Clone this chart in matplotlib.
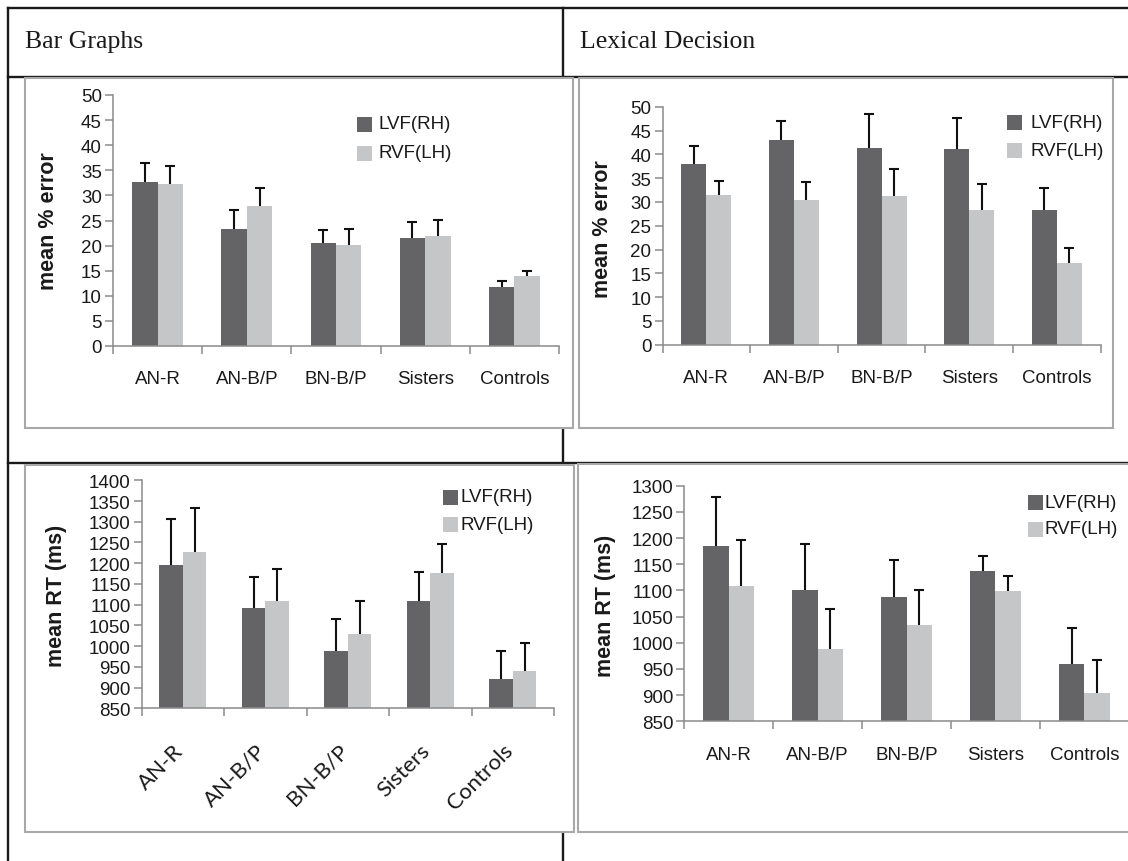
import numpy as np
import matplotlib
matplotlib.use("Agg")
import matplotlib.pyplot as plt
from matplotlib.lines import Line2D
from matplotlib.patches import Rectangle
from matplotlib.transforms import ScaledTranslation

plt.rcParams['font.family'] = ['Liberation Sans', 'DejaVu Sans']

W, H = 1128, 862

# --- data ---
groups = ["AN-R", "AN-B/P", "BN-B/P", "Sisters", "Controls"]
series = ["LVF(RH)", "RVF(LH)"]

# bar graphs, % error
bg_err_lvf = [32.7, 23.3, 20.5, 21.6, 11.7]
bg_err_lvf_se = [3.8, 3.7, 2.7, 3.2, 1.2]
bg_err_rvf = [32.2, 27.8, 20.2, 22.0, 13.9]
bg_err_rvf_se = [3.6, 3.7, 3.2, 3.1, 1.1]

# lexical decision, % error
ld_err_lvf = [38.0, 43.1, 41.4, 41.2, 28.3]
ld_err_lvf_se = [3.7, 4.0, 7.0, 6.4, 4.6]
ld_err_rvf = [31.5, 30.5, 31.2, 28.4, 17.2]
ld_err_rvf_se = [2.9, 3.6, 5.8, 5.3, 3.2]

# bar graphs, RT (ms)
bg_rt_lvf = [1196, 1091, 988, 1108, 920]
bg_rt_lvf_se = [110, 75, 78, 70, 68]
bg_rt_rvf = [1226, 1109, 1029, 1176, 940]
bg_rt_rvf_se = [108, 77, 81, 70, 68]

# lexical decision, RT (ms)
ld_rt_lvf = [1184, 1101, 1087, 1137, 960]
ld_rt_lvf_se = [94, 87, 71, 29, 68]
ld_rt_rvf = [1109, 989, 1033, 1098, 905]
ld_rt_rvf_se = [87, 76, 68, 29, 62]

DARK = '#646466'
LIGHT = '#c5c6c8'
AXIS_GREY = '#8a8a8a'


def fx(x):
    return x / W


def fy(y):
    return 1 - y / H


def hline(y, x0, x1):
    fig.add_artist(Line2D([fx(x0), fx(x1)], [fy(y), fy(y)], transform=fig.transFigure,
                          color='#1a1a1a', lw=1.7, zorder=-2))


def vline(x, y0, y1):
    fig.add_artist(Line2D([fx(x), fx(x)], [fy(y0), fy(y1)], transform=fig.transFigure,
                          color='#1a1a1a', lw=1.7, zorder=-2))


def panel_box(x0, y0, x1, y1):
    fig.add_artist(Rectangle((fx(x0), fy(y1)), (x1 - x0) / W, (y1 - y0) / H,
                             transform=fig.transFigure, facecolor='white',
                             edgecolor='#a8a8a8', lw=1.5, zorder=-1))


def legend(sq_x, text_x, y1, y2):
    for y, col, lab in [(y1, DARK, series[0]), (y2, LIGHT, series[1])]:
        fig.add_artist(Rectangle((fx(sq_x), fy(y + 7.5)), 15 / W, 15 / H,
                                 transform=fig.transFigure, facecolor=col, lw=0))
        fig.text(fx(text_x), fy(y), lab, ha='left', va='center', fontsize=13.5, color='#1a1a1a')


def bar_panel(left, right, top, bottom, lvf, lvf_se, rvf, rvf_se, ylim, step, ylabel, ylab_xy,
              rotate=False):
    ax = fig.add_axes([fx(left), fy(bottom), (right - left) / W, (bottom - top) / H])
    ax.patch.set_alpha(0)
    x = np.arange(len(groups))
    w = 0.285
    ax.bar(x - w / 2, lvf, w, color=DARK, lw=0, zorder=2)
    ax.bar(x + w / 2, rvf, w, color=LIGHT, lw=0, zorder=2)
    for xs, vals, se in [(x - w / 2, lvf, lvf_se), (x + w / 2, rvf, rvf_se)]:
        eb = ax.errorbar(xs, vals, yerr=[np.zeros(len(se)), se], fmt='none', ecolor='#111111',
                         elinewidth=1.5, capsize=3.6, capthick=1.5, zorder=3)
        # only the upper whisker carries a cap
        eb[1][0].set_visible(False)
    ax.set_xlim(-0.5, len(groups) - 0.5)
    ax.set_ylim(*ylim)
    ax.set_yticks(np.arange(ylim[0], ylim[1] + step / 2, step))
    ax.set_xticks(x)
    ax.set_xticks(np.arange(-0.5, len(groups), 1), minor=True)
    for s in ['top', 'right']:
        ax.spines[s].set_visible(False)
    for s in ['left', 'bottom']:
        ax.spines[s].set_color(AXIS_GREY)
        ax.spines[s].set_linewidth(1.1)
    ax.tick_params(axis='y', length=6, width=1.1, color=AXIS_GREY, pad=2,
                   labelsize=13.5, labelcolor='#1a1a1a')
    ax.tick_params(axis='x', which='minor', length=6, width=1.1, color=AXIS_GREY)
    if rotate:
        ax.tick_params(axis='x', which='major', length=0, pad=33)
        ax.set_xticklabels(groups, rotation=45, ha='right', va='bottom', rotation_mode='anchor',
                           family=['Lato', 'DejaVu Sans'], fontsize=16, color='#1a1a1a')
        shift = ScaledTranslation(4 / 100, 0, fig.dpi_scale_trans)
        for lab in ax.get_xticklabels():
            lab.set_transform(lab.get_transform() + shift)
    else:
        ax.tick_params(axis='x', which='major', length=0, pad=17.5, labelsize=13.5,
                       labelcolor='#1a1a1a')
        ax.set_xticklabels(groups)
    fig.text(fx(ylab_xy[0]), fy(ylab_xy[1]), ylabel, rotation=90, ha='center', va='center',
             fontsize=15.5, fontweight='bold', color='#1a1a1a')
    return ax


fig = plt.figure(figsize=(W / 100, H / 100), dpi=100)

# table rules
hline(9, 8, W)
hline(78, 8, W)
hline(464, 8, W)
vline(8, 9, H)
vline(563, 9, H)

fig.text(fx(25), fy(42), "Bar Graphs", family=['Liberation Serif', 'DejaVu Serif'],
         fontsize=18.5, ha='left', va='center', color='#1a1a1a')
fig.text(fx(580), fy(42), "Lexical Decision", family=['Liberation Serif', 'DejaVu Serif'],
         fontsize=18.5, ha='left', va='center', color='#1a1a1a')

# panel frames
panel_box(25, 79, 573, 429)
panel_box(579, 79, 1113, 429)
panel_box(25, 466, 574, 833)
panel_box(578, 465, 1140, 833)

bar_panel(113, 559, 96, 347, bg_err_lvf, bg_err_lvf_se, bg_err_rvf, bg_err_rvf_se,
          (0, 50), 5, "mean % error", (48, 221))
legend(357, 378, 125, 154)

bar_panel(662.5, 1100.6, 107.7, 345.7, ld_err_lvf, ld_err_lvf_se, ld_err_rvf, ld_err_rvf_se,
          (0, 50), 5, "mean % error", (603, 229))
legend(1007, 1030, 123, 151)

bar_panel(141.7, 554, 481.3, 709.3, bg_rt_lvf, bg_rt_lvf_se, bg_rt_rvf, bg_rt_rvf_se,
          (850, 1400), 50, "mean RT (ms)", (57, 596), rotate=True)
legend(443, 460, 498, 525)

bar_panel(684.3, 1128.8, 486.7, 722.3, ld_rt_lvf, ld_rt_lvf_se, ld_rt_rvf, ld_rt_rvf_se,
          (850, 1300), 50, "mean RT (ms)", (605, 606))
legend(1028, 1044, 503, 530)

fig.savefig("out.png", dpi=100)
